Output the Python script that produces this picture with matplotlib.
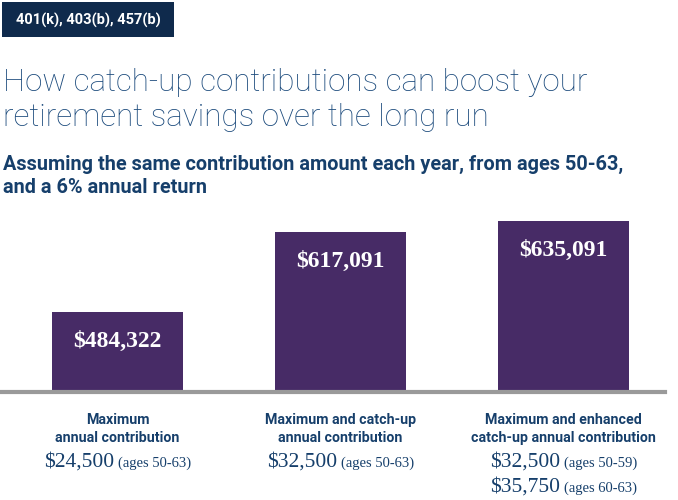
import matplotlib
matplotlib.use("Agg")
import matplotlib.pyplot as plt
from matplotlib.patches import Rectangle

# data
plans = "401(k), 403(b), 457(b)"
title = "How catch-up contributions can boost your\nretirement savings over the long run"
subtitle = "Assuming the same contribution amount each year, from ages 50-63,\nand a 6% annual return"
totals = [484322, 617091, 635091]
bar_labels = ["$484,322", "$617,091", "$635,091"]
cat_names = ["Maximum\nannual contribution",
             "Maximum and catch-up\nannual contribution",
             "Maximum and enhanced\ncatch-up annual contribution"]
amounts = [[("$24,500", "(ages 50-63)")],
           [("$32,500", "(ages 50-63)")],
           [("$32,500", "(ages 50-59)"), ("$35,750", "(ages 60-63)")]]

W, H = 678, 500
purple = "#472b66"
navy = "#0f2a4c"
blue = "#1b4a7c"
dark_blue = "#163f6b"
grey = "#9a9a9a"

fig = plt.figure(figsize=(W / 100, H / 100), dpi=100)

def fx(px):
    return px / W

def fy(py):
    return 1 - py / H

# header tag
fig.patches.append(Rectangle((fx(2), fy(37)), fx(172), 35 / H, transform=fig.transFigure,
                             facecolor=navy, edgecolor="none"))
fig.text(fx(88), fy(20), plans, color="white", fontsize=10.5, fontweight="bold",
         family="Roboto", ha="center", va="center")

fig.text(fx(3), fy(100), title, color=blue, fontsize=22.6, family="Roboto", fontweight="light",
         ha="left", va="center", linespacing=1.3)
fig.text(fx(3), fy(176), subtitle, color=dark_blue, fontsize=14.3, family="Roboto",
         fontweight="bold", ha="left", va="center", linespacing=1.3)

# bars
ax = fig.add_axes([0, fy(392), 1, (392 - 210) / H])
x = list(range(len(totals)))
ax.bar(x, totals, width=0.587, color=purple, zorder=2)
ax.set_xlim(-117.5 / 223, (W - 117.5) / 223)
ax.set_ylim(351500, 653800)
ax.axhline(351500, xmin=0, xmax=665 / W, color=grey, lw=3, zorder=3, clip_on=False)
for xi, v, lab in zip(x, totals, bar_labels):
    ax.annotate(lab, (xi, v), xytext=(0, -21), textcoords="offset points",
                ha="center", va="center", color="white", fontsize=17,
                family="Liberation Serif", fontweight="bold")
ax.axis("off")

# category labels below
centers = [117.5, 340.5, 563.5]
for cx, name in zip(centers, cat_names):
    fig.text(fx(cx), fy(429), name, color=dark_blue, fontsize=10.2, family="Roboto",
             fontweight="bold", ha="center", va="center", linespacing=1.35)

fig.canvas.draw()
r = fig.canvas.get_renderer()
row_y = [467, 492]
for cx, rows in zip(centers, amounts):
    for (big, small), py in zip(rows, row_y):
        t1 = fig.text(0, fy(py), big, color=dark_blue, fontsize=15.5, family="Liberation Serif",
                      ha="left", va="baseline")
        t2 = fig.text(0, fy(py), small, color=dark_blue, fontsize=10.5, family="Liberation Serif",
                      ha="left", va="baseline")
        w1 = t1.get_window_extent(r).width
        w2 = t2.get_window_extent(r).width
        gap = 4
        left = cx - (w1 + gap + w2) / 2
        t1.set_x(fx(left))
        t2.set_x(fx(left + w1 + gap))

fig.savefig("out.png", dpi=100)
